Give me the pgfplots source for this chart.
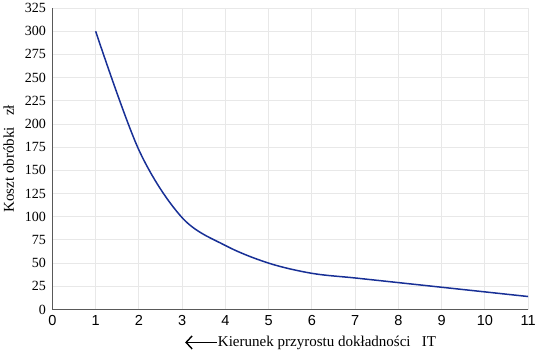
\documentclass[border=0pt]{standalone}
\usepackage{pgfplots}
\pgfplotsset{compat=1.18}
\usetikzlibrary{arrows.meta}
\usepackage{fontspec}
\setmainfont{Liberation Serif}
\newfontfamily\arial{Liberation Sans}
\definecolor{curve}{RGB}{24,48,150}
\begin{document}
\begin{tikzpicture}
\begin{axis}[
  scale only axis,
  width=475pt, height=301pt,
  xmin=0, xmax=11, ymin=0, ymax=325,
  xtick={0,1,...,11}, ytick={0,25,...,325},
  grid=major,
  grid style={draw=black!9, line width=0.9pt},
  axis x line*=bottom, axis y line*=left,
  axis line style={draw=black!65, line width=0.7pt},
  tick style={draw=none},
  /pgf/number format/assume math mode=true,
  xticklabel style={font=\arial\fontsize{14.5}{15}\selectfont, yshift=-2pt},
  yticklabel style={font=\fontsize{14}{15}\selectfont, xshift=-3pt},
  xlabel={\tikz[baseline=-0.6ex]\draw[{Straight Barb[length=6pt,width=13pt,line width=1.4pt]}-, line width=1.4pt] (0,0)--(32pt,0);Kierunek przyrostu dokładności\ \ \ IT},
  ylabel={Koszt obróbki\ \ \ zł},
  xlabel style={font=\fontsize{15}{16}\selectfont, yshift=-3pt, xshift=20pt},
  ylabel style={font=\fontsize{15}{16}\selectfont, yshift=4pt},
  clip=false,
]
\addplot[color=curve, line width=1.5pt, smooth, tension=0.55] coordinates {
(1,300) (2,172) (3,99) (4,69) (5,50) (6,39) (7,34) (8,29) (9,24) (10,19) (11,14)
};
\end{axis}
\end{tikzpicture}
\end{document}
